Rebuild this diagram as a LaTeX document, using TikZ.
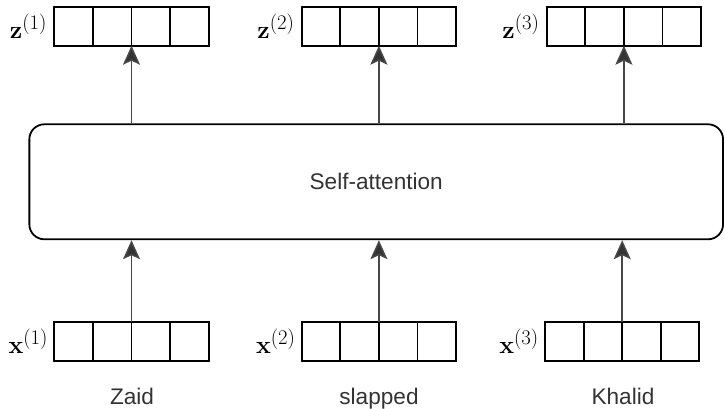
\documentclass[tikz,border=0pt]{standalone}
\usepackage[no-math]{fontspec}
\setmainfont{Liberation Sans}
\usetikzlibrary{arrows.meta}
\begin{document}
\begin{tikzpicture}[x=1pt,y=-1pt,
  cell/.style={draw=black,line width=1.9pt,minimum width=38.6pt,minimum height=39pt,inner sep=0pt,outer sep=0pt,anchor=north west},
  lbl/.style={anchor=east,inner sep=0pt,font=\fontsize{28}{32}\selectfont},
  word/.style={anchor=base,inner sep=0pt,font=\fontsize{22.6}{26}\selectfont,text=black!80},
  sabox/.style={draw=black,line width=1.8pt,rounded corners=15pt,minimum width=693.7pt,minimum height=115pt,font=\fontsize{22.6}{26}\selectfont,text=black!80},
  arr/.style={draw=black!72,line width=1.5pt,-{Stealth[length=19pt,width=17pt,inset=4pt,fill=black!80]}}]
\useasboundingbox (0,0) rectangle (725,409);

\foreach \i in {0,...,3} {
  \node[cell] (za\i) at (54.3+38.6*\i,6.7) {};
  \node[cell] (zb\i) at (301.7+38.6*\i,6.7) {};
  \node[cell] (zc\i) at (546.7+38.6*\i,6.7) {};
  \node[cell] (xa\i) at (54.3+38.6*\i,321.7) {};
  \node[cell] (xb\i) at (301.7+38.6*\i,321.7) {};
  \node[cell] (xc\i) at (545+38.6*\i,321.7) {};
}

\node[lbl] (lza) at ([xshift=-7pt]za0.west) {$\mathbf{z}^{(1)}$};
\node[lbl] (lzb) at ([xshift=-7pt]zb0.west) {$\mathbf{z}^{(2)}$};
\node[lbl] (lzc) at ([xshift=-7pt]zc0.west) {$\mathbf{z}^{(3)}$};
\node[lbl] (lxa) at ([xshift=-6pt]xa0.west) {$\mathbf{x}^{(1)}$};
\node[lbl] (lxb) at ([xshift=-6pt]xb0.west) {$\mathbf{x}^{(2)}$};
\node[lbl] (lxc) at ([xshift=-6pt]xc0.west) {$\mathbf{x}^{(3)}$};

\node[sabox] (sa) at (376.2,181.8) {Self-attention};

\node[word] (wa) at (132,404) {Zaid};
\node[word] (wb) at (379,404) {slapped};
\node[word] (wc) at (623,404) {Khalid};

\draw[arr] (xa2.north west) -- (xa2.north west |- sa.south);
\draw[arr] (xb2.north west) -- (xb2.north west |- sa.south);
\draw[arr] (xc2.north west) -- (xc2.north west |- sa.south);
\draw[arr] (sa.north -| za2.south west) -- (za2.south west);
\draw[arr] (sa.north -| zb2.south west) -- (zb2.south west);
\draw[arr] (sa.north -| zc2.south west) -- (zc2.south west);
\end{tikzpicture}
\end{document}
